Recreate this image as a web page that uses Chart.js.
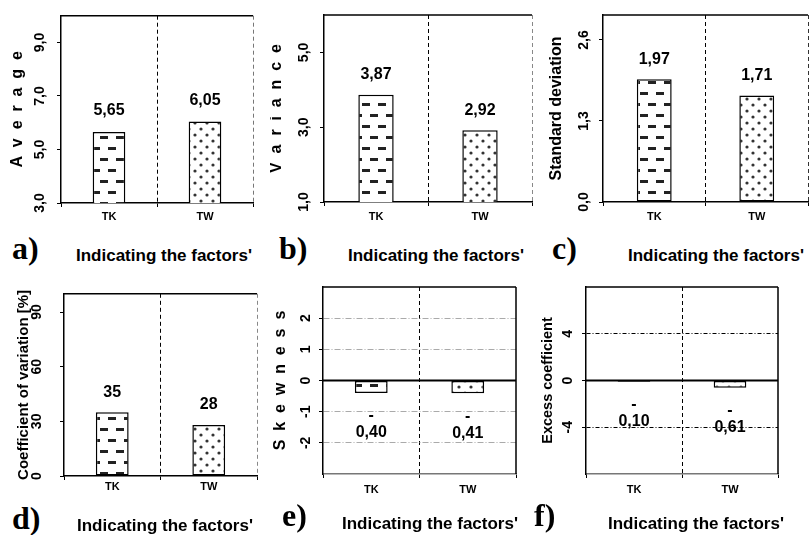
<!DOCTYPE html>
<html>
<head>
<meta charset="utf-8">
<script src="https://cdn.jsdelivr.net/npm/chart.js@4.4.1/dist/chart.umd.min.js"></script>
<style>
  html, body { margin: 0; padding: 0; background: #fff; }
  body { position: relative; width: 809px; height: 535px; overflow: hidden; }
  .box { position: absolute; }
  .tag { position: absolute; font: bold 32px "Liberation Serif", "Times New Roman", serif; line-height: 32px; }
  .cap { position: absolute; font: bold 17px "Liberation Sans", Arial, sans-serif; line-height: 17px; white-space: nowrap; }
</style>
</head>
<body>
<div class="box" style="left:0;top:0"><canvas id="chartA" width="270" height="230"></canvas></div>
<div class="box" style="left:270px;top:0"><canvas id="chartB" width="270" height="230"></canvas></div>
<div class="box" style="left:540px;top:0"><canvas id="chartC" width="270" height="230"></canvas></div>
<div class="box" style="left:0;top:270px"><canvas id="chartD" width="270" height="230"></canvas></div>
<div class="box" style="left:270px;top:270px"><canvas id="chartE" width="270" height="230"></canvas></div>
<div class="box" style="left:540px;top:270px"><canvas id="chartF" width="269" height="230"></canvas></div>

<div class="tag" style="left:12px;top:232px">a)</div>
<div class="tag" style="left:279px;top:232px">b)</div>
<div class="tag" style="left:552px;top:232px">c)</div>
<div class="tag" style="left:12px;top:502px">d)</div>
<div class="tag" style="left:282px;top:499px">e)</div>
<div class="tag" style="left:534px;top:499px">f)</div>

<div class="cap" style="left:76px;top:247px">Indicating the factors'</div>
<div class="cap" style="left:348px;top:247px">Indicating the factors'</div>
<div class="cap" style="left:628px;top:247px">Indicating the factors'</div>
<div class="cap" style="left:77px;top:517px">Indicating the factors'</div>
<div class="cap" style="left:342px;top:515px">Indicating the factors'</div>
<div class="cap" style="left:608px;top:515px">Indicating the factors'</div>

<script>
// dane
const categories = ['TK', 'TW'];
const averageValues = [5.65, 6.05];
const varianceValues = [3.87, 2.92];
const stdDevValues = [1.97, 1.71];
const cvValues = [35, 28];
const skewnessValues = [-0.40, -0.41];
const excessValues = [-0.10, -0.61];

const averageTicks = [3, 5, 7, 9];
const varianceTicks = [1, 3, 5];
const stdDevTicks = [0, 1.3, 2.6];
const cvTicks = [0, 30, 60, 90];
const skewnessTicks = [-2, -1, 0, 1, 2];
const excessTicks = [-4, 0, 4];

Chart.defaults.font.family = '"Liberation Sans", Arial, sans-serif';
Chart.defaults.color = '#000';

// wypełnienia słupków
function dashFill() {
    let c = document.createElement('canvas');
    c.width = 16; c.height = 22;
    let g = c.getContext('2d');
    g.fillStyle = '#fff';
    g.fillRect(0, 0, 16, 22);
    g.fillStyle = '#222';
    g.fillRect(4, 4, 8, 3);
    g.fillRect(12, 15, 4, 3);
    g.fillRect(0, 15, 4, 3);
    return g.createPattern(c, 'repeat');
}
function dotFill() {
    let c = document.createElement('canvas');
    c.width = 12; c.height = 12;
    let g = c.getContext('2d');
    g.fillStyle = '#fff';
    g.fillRect(0, 0, 12, 12);
    g.fillStyle = '#333';
    [[3, 3], [9, 9]].forEach(p => {
        g.beginPath();
        g.arc(p[0], p[1], 1.6, 0, Math.PI * 2);
        g.fill();
    });
    return g.createPattern(c, 'repeat');
}
const fills = [dashFill(), dotFill()];

const comma = (v, d) => Math.abs(v).toFixed(d).replace('.', ',');

// ramka, linia zera i etykiety wartości
const framePlugin = {
    id: 'frame',
    afterDatasetsDraw(chart, args, opts) {
        let ctx = chart.ctx;
        let a = chart.chartArea;
        ctx.save();
        ctx.strokeStyle = '#000';
        ctx.lineWidth = 1.5;
        ctx.beginPath();
        ctx.moveTo(a.left, a.top);
        ctx.lineTo(a.right, a.top);
        if (opts.rightSolid) {
            ctx.moveTo(a.right, a.top);
            ctx.lineTo(a.right, a.bottom);
        }
        ctx.stroke();
        if (opts.zeroLine) {
            let y = chart.scales.y.getPixelForValue(0);
            ctx.lineWidth = 2;
            ctx.beginPath();
            ctx.moveTo(a.left, y);
            ctx.lineTo(a.right, y);
            ctx.stroke();
        }
        ctx.font = 'bold 16px "Liberation Sans", Arial, sans-serif';
        ctx.textAlign = 'center';
        ctx.textBaseline = 'middle';
        ctx.fillStyle = '#000';
        let data = chart.data.datasets[0].data;
        chart.getDatasetMeta(0).data.forEach((bar, i) => {
            let v = data[i];
            let txt = comma(v, opts.decimals);
            if (v >= 0) {
                ctx.fillText(txt, bar.x, bar.y - opts.labelGap);
            } else {
                ctx.fillText('-', bar.x, bar.y + 23);
                ctx.fillText(txt, bar.x, bar.y + 40);
            }
        });
        ctx.restore();
    }
};

function panel(id, p) {
    return new Chart(document.getElementById(id), {
        type: 'bar',
        data: {
            labels: categories,
            datasets: [{
                data: p.values,
                backgroundColor: fills,
                borderColor: '#000',
                borderWidth: 1.5,
                borderSkipped: false,
                barPercentage: 0.34,
                categoryPercentage: 1
            }]
        },
        options: {
            responsive: false,
            animation: false,
            layout: { padding: { left: 0, top: p.top, right: p.right, bottom: 0 } },
            plugins: {
                legend: { display: false },
                tooltip: { enabled: false },
                frame: {
                    rightSolid: !!p.rightSolid,
                    zeroLine: !!p.zeroLine,
                    decimals: p.decimals,
                    labelGap: p.labelGap || 20
                }
            },
            scales: {
                x: {
                    offset: true,
                    afterFit: s => { s.height = p.xH; },
                    grid: {
                        offset: true,
                        color: c => c.index === 0 ? 'rgba(0,0,0,0)' : (c.index === 1 ? '#000' : p.rightColor),
                        lineWidth: 1,
                        tickLength: 4,
                        tickColor: '#000'
                    },
                    border: { color: p.baseColor || '#000', width: 1.5, dash: [4, 3] },
                    ticks: { font: { size: 11, weight: 'bold' }, padding: p.xPad }
                },
                y: {
                    min: p.min,
                    max: p.max,
                    afterFit: s => { s.width = p.yW; },
                    afterBuildTicks: s => { s.ticks = p.ticks.map(v => ({ value: v })); },
                    grid: {
                        drawOnChartArea: !!p.gridColor,
                        color: c => (c.tick && c.tick.value === 0) ? 'rgba(0,0,0,0)' : (p.gridColor || '#000'),
                        lineWidth: 1,
                        tickLength: 4,
                        tickColor: '#000'
                    },
                    border: { color: '#000', width: 1.5, dash: p.gridDash || [] },
                    ticks: {
                        minRotation: 90,
                        maxRotation: 90,
                        crossAlign: 'center',
                        padding: p.yPad,
                        font: { size: 14, weight: 'bold' },
                        callback: v => p.tickDecimals ? comma(v, 1) : String(v)
                    },
                    title: {
                        display: true,
                        text: p.title,
                        font: { size: p.titleSize, weight: 'bold', lineHeight: 1 },
                        padding: { top: p.titlePad, bottom: 0 }
                    }
                }
            }
        },
        plugins: [framePlugin]
    });
}

panel('chartA', {
    values: averageValues, ticks: averageTicks, min: 3, max: 10, tickDecimals: true, decimals: 2,
    top: 15, right: 17, yW: 61, xH: 27, xPad: 3, yPad: 7.3,
    title: 'A  v  e  r  a  g  e', titleSize: 16, titlePad: 10, rightColor: '#777', labelGap: 21
});
panel('chartB', {
    values: varianceValues, ticks: varianceTicks, min: 1, max: 6, tickDecimals: true, decimals: 2,
    top: 15, right: 8, yW: 54, xH: 28, xPad: 4, yPad: 6.3,
    title: 'V  a  r  i  a  n  c  e', titleSize: 16, titlePad: -1, rightColor: '#888'
});
panel('chartC', {
    values: stdDevValues, ticks: stdDevTicks, min: 0, max: 3, tickDecimals: true, decimals: 2,
    top: 15, right: 2, yW: 63, xH: 28, xPad: 4, yPad: 5.3,
    title: 'Standard deviation', titleSize: 16, titlePad: 9, rightColor: '#333'
});
panel('chartD', {
    values: cvValues, ticks: cvTicks, min: 0, max: 100, decimals: 0,
    top: 18, right: 13, yW: 64, xH: 24, xPad: 0, yPad: 15.4,
    title: 'Coefficient of variation [%]', titleSize: 15, titlePad: 16.5, rightColor: '#888'
});
panel('chartE', {
    values: skewnessValues, ticks: skewnessTicks, min: -3, max: 3, decimals: 2,
    top: 17, right: 24, yW: 53, xH: 26, xPad: 5, yPad: 6.8,
    title: 'S  k  e  w  n  e  s  s', titleSize: 16, titlePad: 3,
    rightColor: 'rgba(0,0,0,0)', rightSolid: true, zeroLine: true,
    gridColor: '#aaa', gridDash: [6, 2, 1, 2], baseColor: '#777'
});
panel('chartF', {
    values: excessValues, ticks: excessTicks, min: -8, max: 8, decimals: 2,
    top: 17, right: 31, yW: 46, xH: 26, xPad: 5, yPad: 7.8,
    title: 'Excess coefficient', titleSize: 14.5, titlePad: 1,
    rightColor: 'rgba(0,0,0,0)', rightSolid: true, zeroLine: true,
    gridColor: '#000', gridDash: [4, 2, 1, 2], baseColor: '#777'
});
</script>
</body>
</html>
